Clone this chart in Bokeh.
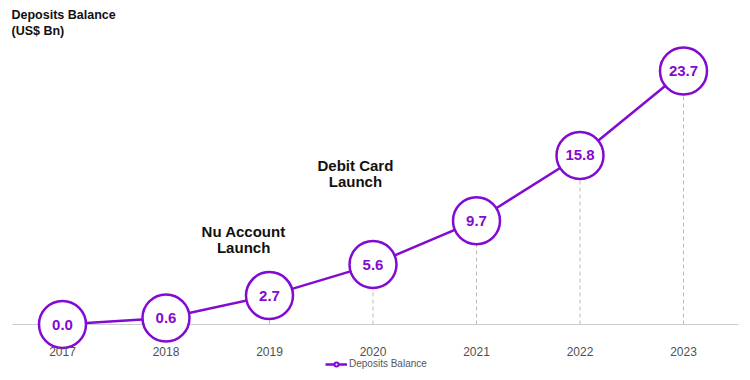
from bokeh.plotting import figure
from bokeh.models import (Label, FixedTicker, Legend, LegendItem,
                          ColumnDataSource, LinearAxis)
from bokeh.core.properties import value
from bokeh.embed import file_html
from bokeh.resources import INLINE

years = ["2017", "2018", "2019", "2020", "2021", "2022", "2023"]
deposits = [0.0, 0.6, 2.7, 5.6, 9.7, 15.8, 23.7]
value_labels = ["0.0", "0.6", "2.7", "5.6", "9.7", "15.8", "23.7"]

PURPLE = "#820AD1"
FONT = "Liberation Sans"

xs = list(range(len(years)))
src = ColumnDataSource(dict(x=xs, y=deposits, lbl=value_labels, zero=[0] * len(xs)))

px_per_x = 103.5
px_per_y = 10.7
H = 380
x0_px = 62
zero_px = 324

p = figure(width=750, height=H, output_backend="svg", toolbar_location=None,
           x_range=(-x0_px / px_per_x, (750 - x0_px) / px_per_x),
           y_range=(-(H - zero_px) / px_per_y, zero_px / px_per_y),
           x_axis_location=None, y_axis_location=None,
           min_border_left=0, min_border_right=0, min_border_top=0,
           min_border_bottom=0)
p.outline_line_color = None
p.grid.visible = False
p.background_fill_color = "white"
p.border_fill_color = "white"

ax = LinearAxis(fixed_location=-(334 - zero_px) / px_per_y)
ax.ticker = FixedTicker(ticks=xs)
ax.major_label_overrides = {i: y for i, y in enumerate(years)}
ax.axis_line_color = None
ax.major_tick_line_color = None
ax.minor_tick_line_color = None
ax.major_label_text_font = FONT
ax.major_label_text_font_size = "12px"
ax.major_label_text_color = "#505050"
ax.major_label_standoff = 6
p.add_layout(ax, "below")

# baseline
p.segment(x0=[(12 - x0_px) / px_per_x], y0=[0], x1=[(738 - x0_px) / px_per_x], y1=[0],
          line_color="#cccccc", line_width=1)

p.segment(x0="x", y0="zero", x1="x", y1="y", source=src, line_color="#bbbbbb",
          line_width=1, line_dash="4 3")

line = p.line("x", "y", source=src, line_color=PURPLE, line_width=2.5)
small = p.scatter("x", "y", source=src, size=7, fill_color="white",
                  line_color=PURPLE, line_width=2)
p.scatter("x", "y", source=src, size=47, fill_color="white",
          line_color=PURPLE, line_width=2.5)
p.text("x", "y", text="lbl", source=src, text_align="center", text_baseline="middle",
       text_color=PURPLE, text_font=value(FONT), text_font_size="15px",
       text_font_style="bold")

p.add_layout(Label(x=11, y=H - 14, x_units="screen", y_units="screen",
                   text="Deposits Balance", text_font=FONT, text_font_size="12.5px",
                   text_font_style="bold", text_color="#111111", text_baseline="middle"))
p.add_layout(Label(x=11, y=H - 30, x_units="screen", y_units="screen",
                   text="(US$ Bn)", text_font=FONT, text_font_size="12.5px",
                   text_font_style="bold", text_color="#111111", text_baseline="middle"))

for tx, ty, t in [(1.75, 8.7, "Nu Account"), (1.75, 7.2, "Launch"),
                  (2.83, 14.9, "Debit Card"), (2.83, 13.4, "Launch")]:
    p.add_layout(Label(x=tx, y=ty, text=t, text_align="center", text_baseline="middle",
                       text_font=FONT, text_font_size="15px", text_font_style="bold",
                       text_color="#111111"))

legend = Legend(items=[LegendItem(label="Deposits Balance", renderers=[line, small])],
                location=(325, 11), orientation="horizontal",
                label_text_font=FONT, label_text_font_size="10px",
                label_text_color="#555555", border_line_color=None,
                background_fill_alpha=0, glyph_width=22, glyph_height=10,
                padding=0, margin=0, label_standoff=2)
p.add_layout(legend)

open("out.html", "w").write(file_html(p, INLINE))
